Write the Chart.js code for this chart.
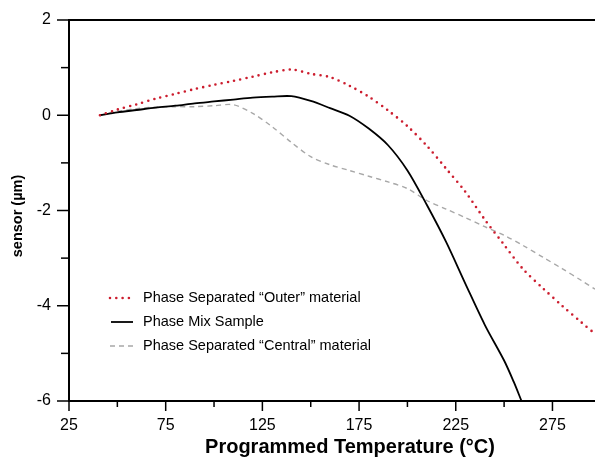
<!DOCTYPE html>
<html>
<head>
<meta charset="utf-8">
<script src="https://cdn.jsdelivr.net/npm/chart.js@4/dist/chart.umd.min.js"></script>
<style>
  html, body { margin: 0; padding: 0; background: #fff; }
  canvas { display: block; }
</style>
</head>
<body>
<canvas id="tempChart" width="595" height="458"></canvas>
<script>
// Sensor displacement vs programmed temperature
const temps = [41, 50, 60, 70, 80, 90, 100, 110, 120, 130, 140, 150, 160, 170, 180, 190, 200, 210, 220, 230, 240, 250, 260, 270, 280, 290, 297];
const outerVals = [0, 0.12, 0.23, 0.35, 0.45, 0.55, 0.64, 0.72, 0.81, 0.90, 0.96, 0.87, 0.80, 0.62, 0.39, 0.10, -0.23, -0.64, -1.12, -1.61, -2.19, -2.72, -3.24, -3.63, -4.00, -4.35, -4.59];
const centralVals = [0, 0.08, 0.14, 0.17, 0.18, 0.18, 0.20, 0.22, 0.04, -0.24, -0.57, -0.87, -1.04, -1.16, -1.28, -1.40, -1.54, -1.79, -1.97, -2.15, -2.34, -2.52, -2.74, -2.98, -3.22, -3.47, -3.65];
const mixTemps = [41, 50, 60, 70, 80, 90, 100, 110, 120, 130, 140, 150, 160, 170, 180, 190, 200, 210, 220, 230, 240, 250, 255, 259];
const mixVals = [0, 0.06, 0.11, 0.16, 0.20, 0.25, 0.29, 0.33, 0.37, 0.39, 0.40, 0.30, 0.15, -0.01, -0.28, -0.63, -1.16, -1.88, -2.66, -3.54, -4.40, -5.15, -5.6, -6.0];
const seriesLabels = ['Phase Separated \u201cOuter\u201d material', 'Phase Mix Sample', 'Phase Separated \u201cCentral\u201d material'];
const xTitle = 'Programmed Temperature (\u00b0C)';
const yTitle = 'sensor (\u00b5m)';

const pts = (xs, ys) => xs.map((x, i) => ({ x: x, y: ys[i] }));
const FONT = '"Liberation Sans", Arial, Helvetica, sans-serif';

// axes frame, tick marks, legend and axis titles
const decorPlugin = {
  id: 'decor',
  afterDraw(chart) {
    const ctx = chart.ctx;
    const area = chart.chartArea;
    const xs = chart.scales.x, ys = chart.scales.y;
    ctx.save();
    ctx.strokeStyle = '#000';
    ctx.lineWidth = 2;
    ctx.beginPath();
    ctx.moveTo(area.left - 1, area.top);
    ctx.lineTo(chart.width, area.top);
    ctx.stroke();

    ctx.lineWidth = 1.5;
    ys.ticks.forEach(t => {
      const p = ys.getPixelForValue(t.value);
      const len = t.value % 2 === 0 ? 12 : 8;
      ctx.beginPath();
      ctx.moveTo(area.left - len, p);
      ctx.lineTo(area.left, p);
      ctx.stroke();
    });
    xs.ticks.forEach(t => {
      const p = xs.getPixelForValue(t.value);
      const len = (t.value - 25) % 50 === 0 ? 10 : 6;
      ctx.beginPath();
      ctx.moveTo(p, area.bottom);
      ctx.lineTo(p, area.bottom + len);
      ctx.stroke();
    });

    // legend
    const rows = [298, 322, 346];
    chart.data.datasets.forEach((ds, i) => {
      const y = rows[i];
      ctx.save();
      ctx.strokeStyle = ds.borderColor;
      ctx.lineWidth = ds.borderWidth;
      ctx.lineCap = ds.borderCapStyle || 'butt';
      ctx.setLineDash(ds.borderDash || []);
      ctx.beginPath();
      ctx.moveTo(ds.legendStart, y);
      ctx.lineTo(133, y);
      ctx.stroke();
      ctx.restore();
      ctx.fillStyle = '#000';
      ctx.font = '14.5px ' + FONT;
      ctx.textAlign = 'left';
      ctx.textBaseline = 'middle';
      ctx.fillText(ds.label, 143, y);
    });

    // titles
    ctx.fillStyle = '#000';
    ctx.font = 'bold 20px ' + FONT;
    ctx.textAlign = 'center';
    ctx.textBaseline = 'middle';
    ctx.fillText(xTitle, 350, 447);
    ctx.translate(18, 216);
    ctx.rotate(-Math.PI / 2);
    ctx.font = 'bold 14.5px ' + FONT;
    ctx.fillText(yTitle, 0, 0);
    ctx.restore();
  }
};

const ctx = document.getElementById('tempChart').getContext('2d');
const tempChart = new Chart(ctx, {
  type: 'line',
  data: {
    datasets: [
      {
        label: seriesLabels[0],
        data: pts(temps, outerVals),
        borderColor: '#cc1d2e',
        borderWidth: 2.6,
        borderDash: [0, 6.3],
        borderCapStyle: 'round',
        legendStart: 110
      },
      {
        label: seriesLabels[1],
        data: pts(mixTemps, mixVals),
        borderColor: '#000',
        borderWidth: 1.8,
        legendStart: 111
      },
      {
        label: seriesLabels[2],
        data: pts(temps, centralVals),
        borderColor: '#a8a8a8',
        borderWidth: 1.4,
        borderDash: [5, 4],
        legendStart: 110
      }
    ]
  },
  options: {
    responsive: false,
    animation: false,
    devicePixelRatio: 1,
    layout: { padding: { top: 20, right: 0, left: 0, bottom: 0 } },
    elements: {
      point: { radius: 0 },
      line: { tension: 0.3, fill: false }
    },
    plugins: {
      legend: { display: false },
      tooltip: { enabled: false }
    },
    scales: {
      x: {
        type: 'linear',
        min: 25,
        max: 297,
        afterFit: s => { s.height = 57; },
        border: { display: true, color: '#000', width: 2 },
        grid: { display: true, drawOnChartArea: false, tickLength: 10, tickColor: 'rgba(0,0,0,0)' },
        ticks: {
          stepSize: 25,
          includeBounds: false,
          maxRotation: 0,
          autoSkip: false,
          padding: 5,
          color: '#000',
          font: { family: FONT, size: 16 },
          callback: v => ((v - 25) % 50 === 0 ? String(v) : '')
        }
      },
      y: {
        min: -6,
        max: 2,
        afterFit: s => { s.width = 69; },
        border: { display: true, color: '#000', width: 2 },
        grid: { display: true, drawOnChartArea: false, tickLength: 12, tickColor: 'rgba(0,0,0,0)' },
        ticks: {
          stepSize: 1,
          autoSkip: false,
          padding: 6,
          color: '#000',
          font: { family: FONT, size: 16 },
          callback: v => (v % 2 === 0 ? String(v) : '')
        }
      }
    }
  },
  plugins: [decorPlugin]
});
</script>
</body>
</html>
